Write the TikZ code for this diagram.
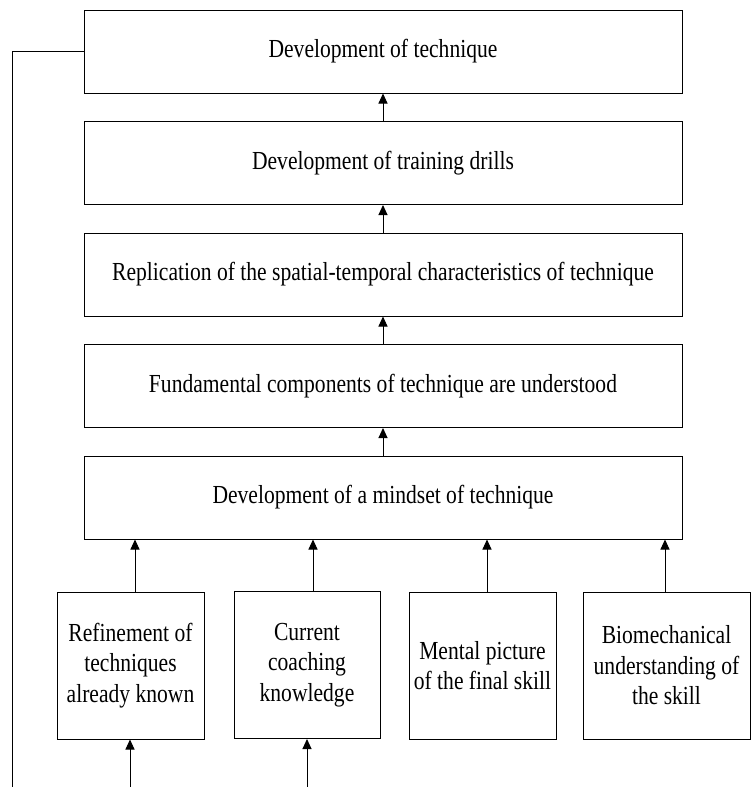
\documentclass[tikz,border=0pt]{standalone}
\usepackage{fontspec}
\setmainfont[FakeStretch=0.83]{Liberation Serif}
\usetikzlibrary{arrows.meta}
\begin{document}
\begin{tikzpicture}[x=1pt,y=-1pt,
  line width=1pt,
  every node/.style={font=\fontsize{26}{30.5}\selectfont, align=center, inner sep=0pt},
  mainbox/.style={draw, minimum width=598pt, minimum height=83pt},
  srcbox/.style={draw, minimum height=147pt},
  arr/.style={-{Triangle[length=10pt,width=9pt]}}]
\useasboundingbox (0,0) rectangle (751,787);

% stacked stages
\node[mainbox] (m1) at (383,51.5)  {Development of technique};
\node[mainbox] (m2) at (383,163)   {Development of training drills};
\node[mainbox] (m3) at (383,274.5) {Replication of the spatial-temporal characteristics of technique};
\node[mainbox] (m4) at (383,386)   {Fundamental components of technique are understood};
\node[mainbox] (m5) at (383,497.5) {Development of a mindset of technique};

% contributing sources
\node[srcbox, minimum width=147pt] (b1) at (130.5,665.5) {Refinement of\\techniques\\already known};
\node[srcbox, minimum width=146pt] (b2) at (307,665)     {Current\\coaching\\knowledge};
\node[srcbox, minimum width=147pt] (b3) at (482.5,665.5) {Mental picture\\of the final skill};
\node[srcbox, minimum width=167pt] (b4) at (666.5,665.5) {Biomechanical\\understanding of\\the skill};

% upward flow between stages
\draw[arr] (m2) -- (m1);
\draw[arr] (m3) -- (m2);
\draw[arr] (m4) -- (m3);
\draw[arr] (m5) -- (m4);

% sources into the mindset stage
\draw[arr] ([xshift=4.5pt]b1.north) -- ([xshift=4.5pt]b1.north |- m5.south);
\draw[arr] ([xshift=6pt]b2.north) -- ([xshift=6pt]b2.north |- m5.south);
\draw[arr] ([xshift=4.5pt]b3.north) -- ([xshift=4.5pt]b3.north |- m5.south);
\draw[arr] ([xshift=-1.5pt]b4.north) -- ([xshift=-1.5pt]b4.north |- m5.south);

% inputs from below
\coordinate (in1) at (130,787);
\coordinate (in2) at (307,787);
\draw[arr] (in1) -- (in1 |- b1.south);
\draw[arr] (in2) -- (in2 |- b2.south);

% feedback line from the top stage
\coordinate (fb) at (12,787);
\draw (m1.west) -| (fb);
\end{tikzpicture}
\end{document}
